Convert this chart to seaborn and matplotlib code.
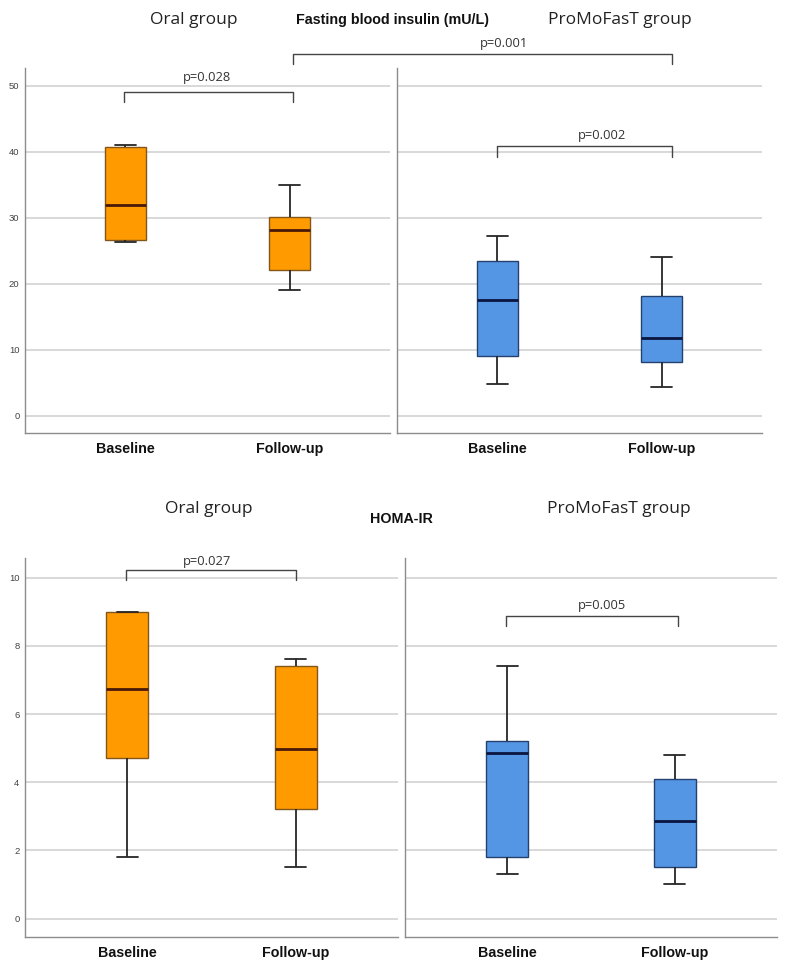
import numpy as np
import pandas as pd
import matplotlib
matplotlib.use('Agg')
import matplotlib.pyplot as plt
from matplotlib.lines import Line2D
import seaborn as sns

sns.set_style('white')
plt.rcParams['font.family'] = ['Liberation Sans', 'DejaVu Sans']

W, H = 786, 967
times = ['Baseline', 'Follow-up']

# five-number summaries: min, Q1, median, Q3, max
ins_oral_base = [26.3, 26.7, 32.0, 40.8, 41.1]
ins_oral_fu = [19.0, 22.1, 28.1, 30.2, 35.0]
ins_pro_base = [4.85, 9.1, 17.6, 23.5, 27.3]
ins_pro_fu = [4.3, 8.1, 11.8, 18.1, 24.0]
homa_oral_base = [1.82, 4.72, 6.75, 9.0, 9.0]
homa_oral_fu = [1.51, 3.21, 4.97, 7.41, 7.61]
homa_pro_base = [1.32, 1.81, 4.86, 5.21, 7.42]
homa_pro_fu = [1.01, 1.52, 2.87, 4.11, 4.81]

ins_ticks = [0, 10, 20, 30, 40, 50]
homa_ticks = [0, 2, 4, 6, 8, 10]

# p-values: label, bracket height, tick bottom
p_ins_oral = ('p=0.028', 49.0, 47.6)
p_ins_pro = ('p=0.002', 40.9, 39.2)
p_ins_cross = ('p=0.001', 54.8, 53.3)
p_homa_oral = ('p=0.027', 10.23, 9.93)
p_homa_pro = ('p=0.005', 8.89, 8.58)

orange = '#ff9a00'
orange_edge = '#84561a'
orange_med = '#4a1a08'
blue = '#5596e4'
blue_edge = '#24406e'
blue_med = '#0a1640'


def px_axes(fig, left, top, right, bottom):
    return fig.add_axes([left / W, 1 - bottom / H, (right - left) / W, (bottom - top) / H])


def make_df(base, fu):
    return pd.DataFrame({'time': [times[0]] * len(base) + [times[1]] * len(fu),
                         'value': base + fu})


def draw_panel(ax, base, fu, fill, edge, med, ticks, ylim, show_labels, xpad):
    ax.yaxis.grid(True, color='#d6d6d6', linewidth=1.3)
    ax.set_axisbelow(True)
    sns.boxplot(data=make_df(base, fu), x='time', y='value', order=times, ax=ax,
                color=fill, saturation=1, width=0.25, whis=(0, 100),
                showfliers=False, linecolor=edge, linewidth=1.0,
                medianprops=dict(color=med, linewidth=2.0),
                whiskerprops=dict(color='#262626', linewidth=1.3),
                capprops=dict(color='#262626', linewidth=1.3))
    ax.set_xlim(-0.61, 1.61)
    ax.set_ylim(*ylim)
    ax.set_yticks(ticks)
    if show_labels:
        ax.set_yticklabels([str(t) for t in ticks], fontsize=6.8, color='#444444')
    else:
        ax.set_yticklabels([])
    ax.set_xlabel('')
    ax.set_ylabel('')
    ax.tick_params(axis='both', length=0)
    ax.tick_params(axis='y', pad=4)
    ax.tick_params(axis='x', pad=xpad)
    for lab in ax.get_xticklabels():
        lab.set_fontweight('bold')
        lab.set_fontsize(10.3)
        lab.set_color('#111111')
    sns.despine(ax=ax)
    for s in ['left', 'bottom']:
        ax.spines[s].set_color('#8c8c8c')
        ax.spines[s].set_linewidth(1.0)


def bracket(ax, x0, x1, p):
    _, yh, yl = p
    ax.plot([x0, x0, x1, x1], [yl, yh, yh, yl], color='#444444', lw=1.0, clip_on=False)


def ftext(x, y, s, **kw):
    fig.text(x / W, 1 - y / H, s, ha='center', va='center', **kw)


fig = plt.figure(figsize=(W / 100, H / 100), dpi=100)

ax1 = px_axes(fig, 25, 68, 390, 433)
ax2 = px_axes(fig, 397, 68, 762, 433)
ax3 = px_axes(fig, 25, 558, 398, 937)
ax4 = px_axes(fig, 405, 558, 777, 937)

draw_panel(ax1, ins_oral_base, ins_oral_fu, orange, orange_edge, orange_med,
           ins_ticks, (-2.6, 52.7), True, 6.5)
draw_panel(ax2, ins_pro_base, ins_pro_fu, blue, blue_edge, blue_med,
           ins_ticks, (-2.6, 52.7), False, 6.5)
draw_panel(ax3, homa_oral_base, homa_oral_fu, orange, orange_edge, orange_med,
           homa_ticks, (-0.54, 10.58), True, 6.5)
draw_panel(ax4, homa_pro_base, homa_pro_fu, blue, blue_edge, blue_med,
           homa_ticks, (-0.54, 10.58), False, 6.5)

bracket(ax1, -0.01, 1.02, p_ins_oral)
bracket(ax2, 0.0, 1.06, p_ins_pro)
bracket(ax3, -0.01, 1.0, p_homa_oral)
bracket(ax4, -0.01, 1.02, p_homa_pro)

# bracket spanning both insulin panels
_, yh, yl = p_ins_cross
pts = np.vstack([ax1.transData.transform([(1.02, yl), (1.02, yh)]),
                 ax2.transData.transform([(1.06, yh), (1.06, yl)])])
pts = fig.transFigure.inverted().transform(pts)
fig.add_artist(Line2D(pts[:, 0], pts[:, 1], color='#444444', lw=1.0,
                      transform=fig.transFigure))

# headings and p-value labels
grp = dict(family=['Open Sans', 'DejaVu Sans'], fontsize=12.5, color='#222222')
ttl = dict(fontsize=10.3, fontweight='bold', color='#111111')
ptx = dict(family=['Open Sans', 'DejaVu Sans'], fontsize=9.3, color='#333333')

ftext(194, 20, 'Oral group', **grp)
ftext(620, 20, 'ProMoFasT group', **grp)
ftext(393, 20, 'Fasting blood insulin (mU/L)', **ttl)
ftext(209, 509, 'Oral group', **grp)
ftext(619, 509, 'ProMoFasT group', **grp)
ftext(401, 519, 'HOMA-IR', **ttl)

ftext(207, 77, p_ins_oral[0], **ptx)
ftext(504, 43, p_ins_cross[0], **ptx)
ftext(602, 136, p_ins_pro[0], **ptx)
ftext(207, 562, p_homa_oral[0], **ptx)
ftext(602, 605, p_homa_pro[0], **ptx)

fig.savefig('out.png', dpi=100)
